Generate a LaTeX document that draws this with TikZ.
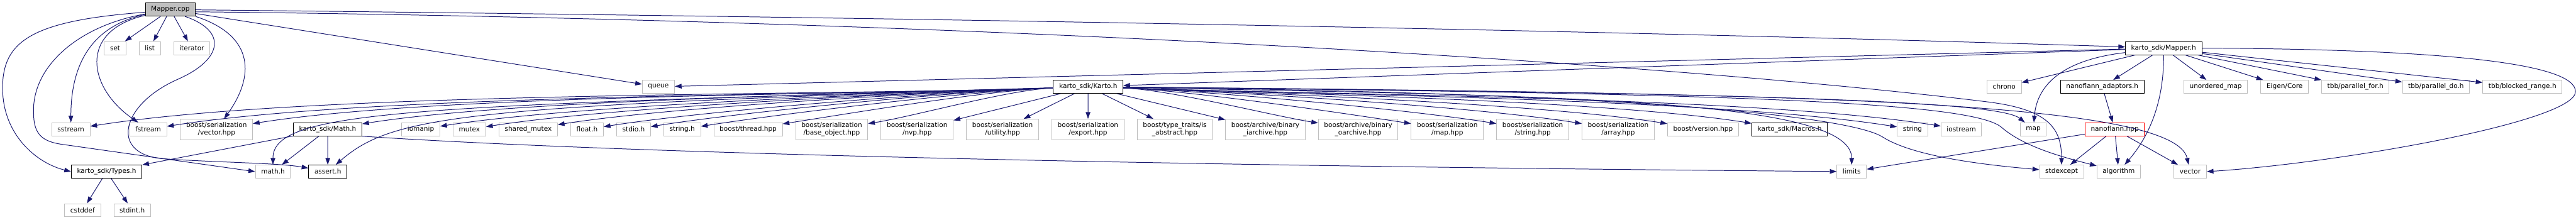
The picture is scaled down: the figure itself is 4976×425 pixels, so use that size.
\documentclass[tikz,border=0pt]{standalone}
\usepackage{fontspec}
\setmainfont{DejaVu Sans}
\usepackage{xcolor}
\usepackage{tikz}
\usetikzlibrary{positioning,arrows.meta}
\definecolor{cedge}{HTML}{191970}
\definecolor{cgray}{HTML}{BFBFBF}
\tikzset{
  filebox/.style={draw=cgray, line width=1.2pt, fill=white, align=center,
    minimum height=25.4pt, inner xsep=11.1pt, inner ysep=6pt,
    font=\fontsize{12.8}{15}\selectfont},
  docbox/.style={filebox, draw=black},
  mainbox/.style={docbox, fill=cgray},
  incl/.style={-{Triangle[length=13pt,width=9pt]}, line width=1.2pt, color=cedge}
}

\begin{document}
\begin{tikzpicture}[x=1pt, y=1pt, node distance=24.4pt]
  \useasboundingbox (0,0) rectangle (4976,-425);
  \node[mainbox] (mcpp) at (329,-18.5) {Mapper.cpp};

  \node[filebox] (set) at (222.4,-93) {set};
  \node[filebox, right=of set] (list) {list};
  \node[filebox, right=of list] (iter) {iterator};
  \node[docbox] (mapperh) at (4179.4,-93) {karto\_sdk/Mapper.h};

  \node[filebox] (queue) at (1271.8,-167.7) {queue};
  \node[docbox] (karto) at (2102,-167.7) {karto\_sdk/Karto.h};
  \node[filebox] (chrono) at (3871.4,-167.7) {chrono};
  \node[docbox] (nfadapt) at (4060.9,-167.7) {nanoflann\_adaptors.h};
  \node[filebox] (umap) at (4280,-167.7) {unordered\_map};
  \node[filebox, right=of umap] (eigen) {Eigen/Core};
  \node[filebox, right=of eigen] (pfor) {tbb/parallel\_for.h};
  \node[filebox, right=of pfor] (pdo) {tbb/parallel\_do.h};
  \node[filebox, right=of pdo] (brange) {tbb/blocked\_range.h};

  \node[filebox] (sstream) at (136.9,-250) {sstream};
  \node[filebox] (fstream) at (286.2,-250) {fstream};
  \node[filebox] (bvector) at (418.2,-250) {boost/serialization\\/vector.hpp};
  \node[docbox] (mathk) at (632.9,-250) {karto\_sdk/Math.h};
  \node[filebox] (iomanip) at (812.8,-250) {iomanip};
  \node[filebox, right=of iomanip] (mutex) {mutex};
  \node[filebox, right=of mutex] (smutex) {shared\_mutex};
  \node[filebox, right=of smutex] (floath) {float.h};
  \node[filebox, right=of floath] (stdioh) {stdio.h};
  \node[filebox, right=of stdioh] (stringh) {string.h};
  \node[filebox, right=of stringh] (bthread) {boost/thread.hpp};
  \node[filebox, right=of bthread] (bbase) {boost/serialization\\/base\_object.hpp};
  \node[filebox, right=of bbase] (bnvp) {boost/serialization\\/nvp.hpp};
  \node[filebox, right=of bnvp] (butil) {boost/serialization\\/utility.hpp};
  \node[filebox, right=of butil] (bexport) {boost/serialization\\/export.hpp};
  \node[filebox, right=of bexport] (babstract) {boost/type\_traits/is\\\_abstract.hpp};
  \node[filebox, right=of babstract] (biarch) {boost/archive/binary\\\_iarchive.hpp};
  \node[filebox, right=of biarch] (boarch) {boost/archive/binary\\\_oarchive.hpp};
  \node[filebox, right=of boarch] (bmap) {boost/serialization\\/map.hpp};
  \node[filebox, right=of bmap] (bstring) {boost/serialization\\/string.hpp};
  \node[filebox, right=of bstring] (barray) {boost/serialization\\/array.hpp};
  \node[filebox, right=of barray] (bversion) {boost/version.hpp};
  \node[docbox, right=of bversion] (macros) {karto\_sdk/Macros.h};
  \node[filebox] (string) at (3694.3,-250) {string};
  \node[filebox, right=of string] (iostream) {iostream};
  \node[filebox] (map) at (3927.7,-250) {map};
  \node[filebox, draw=red] (nanoflann) at (4085,-250) {nanoflann.hpp};

  \node[docbox] (types) at (206,-331.7) {karto\_sdk/Types.h};
  \node[filebox] (mathh) at (527.3,-331.7) {math.h};
  \node[docbox] (asserth) at (633.2,-331.7) {assert.h};
  \node[filebox] (limits) at (3576.8,-331.7) {limits};
  \node[filebox] (stdexcept) at (3982.3,-331.7) {stdexcept};
  \node[filebox] (algorithm) at (4092.6,-331.7) {algorithm};
  \node[filebox] (vector) at (4230.7,-331.7) {vector};

  \node[filebox] (cstddef) at (159.6,-406.3) {cstddef};
  \node[filebox, right=of cstddef] (stdint) {stdint.h};

  \draw[incl] (mcpp) -- (set);
  \draw[incl] (mcpp) -- (list);
  \draw[incl] (mcpp) -- (iter);
  \draw[incl] (mcpp.186) .. controls (60,-40) and (5,-80) .. (5,-170) .. controls (5,-260) and (70,-315) .. (types.west);
  \draw[incl] (mcpp.190) .. controls (150,-50) and (60,-130) .. (65,-220) .. controls (65,-262) and (85,-274) .. (120,-279) -- (mathh.west);
  \draw[incl] (mcpp.191) .. controls (180,-50) and (137,-120) .. (sstream.north);
  \draw[incl] (mcpp.193) .. controls (150,-60) and (170,-170) .. (fstream);
  \draw[incl] (mcpp.335) .. controls (440,-60) and (430,-115) .. (344,-153) .. controls (232,-202) and (210,-300) .. (318,-307) .. controls (420,-314) and (540,-315) .. (asserth);
  \draw[incl] (mcpp.south east) .. controls (495,-70) and (490,-150) .. (bvector);
  \draw[incl] (mcpp) -- (queue);
  \draw[incl] (mcpp) .. controls (1600,-32) and (3000,-55) .. (mapperh);
  \draw[incl] (mcpp.355) .. controls (2000,-40) and (3300,-130) .. (3840,-197) .. controls (3960,-212) and (3982,-250) .. (stdexcept);

  \draw[incl] (mapperh) -- (karto);
  \draw[incl] (mapperh) -- (queue);
  \draw[incl] (mapperh) -- (chrono);
  \draw[incl] (mapperh) -- (nfadapt);
  \draw[incl] (mapperh) -- (umap);
  \draw[incl] (mapperh) -- (eigen);
  \draw[incl] (mapperh) -- (pfor);
  \draw[incl] (mapperh) -- (pdo);
  \draw[incl] (mapperh) -- (brange);
  \draw[incl] (mapperh) .. controls (3990,-115) and (3935,-160) .. (map);
  \draw[incl] (mapperh.south) .. controls (4180,-200) and (4150,-265) .. (algorithm);
  \draw[incl] (mapperh.east) .. controls (4700,-95) and (4975,-120) .. (4975,-177) .. controls (4975,-235) and (4520,-315) .. (vector.east);

  \draw[incl] (karto.182) .. controls +(-437,-15) and +(432,68) .. (sstream.9);
  \draw[incl] (karto.182) .. controls +(-402,-14) and +(397,63) .. (fstream.9);
  \draw[incl] (karto.182) .. controls +(-363,-13) and +(359,57) .. (bvector.9);
  \draw[incl] (karto.182) .. controls +(-313,-11) and +(309,49) .. (mathk.9);
  \draw[incl] (karto.182) .. controls +(-278,-10) and +(275,43) .. (iomanip.9);
  \draw[incl] (karto.182) .. controls +(-258,-9) and +(255,40) .. (mutex.9);
  \draw[incl] (karto.182) .. controls +(-225,-8) and +(222,35) .. (smutex.9);
  \draw[incl] (karto.182) .. controls +(-204,-7) and +(202,32) .. (floath.9);
  \draw[incl] (karto.182) .. controls +(-183,-6) and +(181,29) .. (stdioh.9);
  \draw[incl] (karto.182) .. controls +(-160,-6) and +(158,25) .. (stringh.9);
  \draw[incl] (karto.182) .. controls +(-124,-4) and +(122,19) .. (bthread.9);
  \draw[incl] (karto.182) .. controls +(-85,-3) and +(84,13) .. (bbase.9);
  \draw[incl] (karto) -- (bnvp);
  \draw[incl] (karto) -- (butil);
  \draw[incl] (karto) -- (bexport);
  \draw[incl] (karto) -- (babstract);
  \draw[incl] (karto) -- (biarch);
  \draw[incl] (karto.-2) .. controls +(89,-3) and +(-88,14) .. (boarch.171);
  \draw[incl] (karto.-2) .. controls +(131,-5) and +(-129,20) .. (bmap.171);
  \draw[incl] (karto.-2) .. controls +(170,-6) and +(-168,27) .. (bstring.171);
  \draw[incl] (karto.-2) .. controls +(209,-7) and +(-206,33) .. (barray.171);
  \draw[incl] (karto.-2) .. controls +(248,-9) and +(-245,39) .. (bversion.171);
  \draw[incl] (karto.-2) .. controls +(287,-10) and +(-283,45) .. (macros.171);
  \draw[incl] (karto.-2) .. controls +(351,-12) and +(-347,55) .. (string.171);
  \draw[incl] (karto.-2) .. controls +(371,-13) and +(-366,58) .. (iostream.171);
  \draw[incl] (karto) .. controls (800,-205) and (527,-212) .. (mathh);
  \draw[incl] (karto) .. controls (900,-205) and (760,-222) .. (asserth);
  \draw[incl] (karto) .. controls (3000,-185) and (3577,-190) .. (limits);
  \draw[incl] (karto) .. controls (3200,-180) and (3580,-228) .. (3637,-265) .. controls (3700,-305) and (3850,-320) .. (stdexcept);
  \draw[incl] (karto) .. controls (3300,-180) and (3800,-195) .. (3865,-245) .. controls (3910,-285) and (3990,-305) .. (algorithm);
  \draw[incl] (karto) .. controls (3400,-180) and (3860,-195) .. (map);
  \draw[incl] (karto) .. controls (3500,-180) and (4200,-195) .. (vector);

  \draw[incl] (mathk) -- (types);
  \draw[incl] (mathk) -- (mathh);
  \draw[incl] (mathk) -- (asserth);
  \draw[incl] (mathk.south east) .. controls (1250,-300) and (2400,-322) .. (limits);

  \draw[incl] (types) -- (cstddef);
  \draw[incl] (types) -- (stdint);

  \draw[incl] (nfadapt) -- (nanoflann);
  \draw[incl] (nanoflann) -- (limits);
  \draw[incl] (nanoflann) -- (stdexcept);
  \draw[incl] (nanoflann) -- (algorithm);
  \draw[incl] (nanoflann) -- (vector);
\end{tikzpicture}
\end{document}
